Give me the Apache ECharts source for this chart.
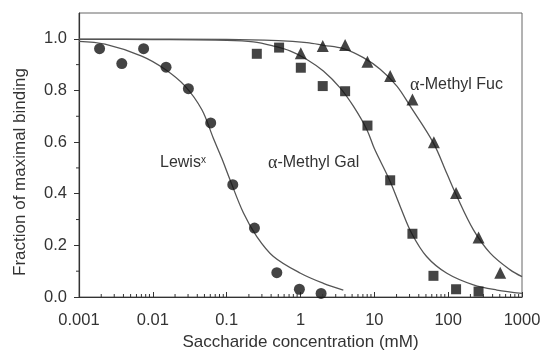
<!DOCTYPE html>
<html><head><meta charset="utf-8">
<script src="https://cdn.jsdelivr.net/npm/echarts@6/dist/echarts.min.js"></script>
<style>html,body{margin:0;padding:0;background:#fff}#c{width:541px;height:352px}</style>
</head><body><div id="c"></div>
<script>
// ---- measured points ----
const lewisX = [0.0019, 0.0038, 0.0075, 0.0151, 0.0303, 0.0608, 0.121, 0.238, 0.478, 0.966, 1.9];
const lewisY = [0.962, 0.904, 0.962, 0.890, 0.807, 0.674, 0.435, 0.267, 0.094, 0.030, 0.014];
const galX = [0.256, 0.513, 1.01, 2.0, 4.02, 8.07, 16.4, 32.8, 63.2, 128, 258];
const galY = [0.942, 0.966, 0.888, 0.817, 0.797, 0.664, 0.452, 0.245, 0.082, 0.030, 0.021];
const fucX = [1.01, 2.0, 4.02, 8.07, 16.4, 32.8, 64, 128, 258, 507];
const fucY = [0.944, 0.972, 0.976, 0.911, 0.856, 0.765, 0.599, 0.403, 0.230, 0.094];
// ---- fitted curves ----
const lewisFitX = [0.001, 0.00225, 0.00706, 0.0146, 0.0273, 0.046, 0.066, 0.0858, 0.111, 0.169, 0.256, 0.43, 1.0, 2.04, 3.8];
const lewisFitY = [0.99, 0.979, 0.933, 0.882, 0.817, 0.726, 0.615, 0.537, 0.454, 0.325, 0.234, 0.157, 0.092, 0.053, 0.027];
const galFitX = [0.001, 0.01, 0.1, 0.23, 0.43, 0.72, 1.22, 2.04, 3.44, 5.2, 7.9, 10, 16, 22.4, 32, 51, 96, 220, 457, 1000];
const galFitY = [0.998, 0.997, 0.994, 0.988, 0.972, 0.953, 0.920, 0.875, 0.810, 0.739, 0.649, 0.575, 0.454, 0.351, 0.247, 0.157, 0.092, 0.047, 0.027, 0.014];
const fucFitX = [0.001, 0.1, 0.5, 1.22, 2.04, 3.81, 7.1, 12, 20.2, 30.6, 63, 96, 131, 220, 371, 692, 1000];
const fucFitY = [0.999, 0.998, 0.993, 0.985, 0.975, 0.962, 0.927, 0.882, 0.817, 0.739, 0.597, 0.478, 0.390, 0.260, 0.170, 0.105, 0.079];
// ---- ticks ----
const yMajorTicks = [0, 0.2, 0.4, 0.6, 0.8, 1.0];
const yMinorTicks = [0.1, 0.3, 0.5, 0.7, 0.9];
const xDecades = [0.001, 0.01, 0.1, 1, 10, 100];
const xMinorMult = [2, 3, 4, 5, 6, 7, 8, 9];

const xMinorTicks = [];
xDecades.forEach(d => xMinorMult.forEach(m => xMinorTicks.push(+(d * m).toPrecision(3))));

const FONT = '"Liberation Sans", Arial, Helvetica, sans-serif';
const SERIF = '"Liberation Serif", "Times New Roman", serif';
const TXT = '#333';
const zip = (xs, ys) => xs.map((x, i) => [x, ys[i]]);

const chart = echarts.init(document.getElementById('c'));
const fitLine = (name, xs, ys) => ({
  type: 'line', name, data: zip(xs, ys), showSymbol: false, smooth: 0.35,
  lineStyle: { color: '#555', width: 1.3 }, z: 2, silent: true
});
const pts = (name, xs, ys, symbol, size) => ({
  type: 'scatter', name, data: zip(xs, ys), symbol, symbolSize: size,
  itemStyle: { color: '#151515' }, z: 3, silent: true
});

chart.setOption({
  animation: false,
  backgroundColor: '#fff',
  grid: { left: 79, right: 19, top: 13, bottom: 55, show: true, borderColor: '#666', borderWidth: 1,
          containLabel: false, outerBoundsMode: 'none' },
  xAxis: {
    type: 'log', logBase: 10, min: 0.001, max: 1000, splitNumber: 6,
    name: 'Saccharide concentration (mM)', nameLocation: 'middle', nameGap: 37,
    nameTextStyle: { fontFamily: FONT, fontSize: 17, color: TXT },
    axisLine: { lineStyle: { color: '#333', width: 1.2 } },
    axisTick: { inside: true, length: 5, lineStyle: { color: '#333' } },
    axisLabel: {
      margin: 15, fontFamily: FONT, fontSize: 16.5, color: TXT,
      formatter: v => { const e = Math.round(Math.log10(v)); return e < 0 ? Math.pow(10, e).toFixed(-e) : String(Math.pow(10, e)); }
    },
    splitLine: { show: false }
  },
  yAxis: {
    type: 'value', min: 0, max: 1.1,
    name: 'Fraction of maximal binding', nameLocation: 'middle', nameGap: 50,
    nameTextStyle: { fontFamily: FONT, fontSize: 17, color: TXT, padding: [0, 34, 0, 0] },
    axisLine: { show: true, lineStyle: { color: '#333', width: 1.2 } },
    axisTick: { show: true, length: 5, customValues: yMajorTicks, lineStyle: { color: '#333' } },
    axisLabel: { customValues: yMajorTicks, margin: 12, fontFamily: FONT, fontSize: 16.5, color: TXT, formatter: v => v.toFixed(1) },
    splitLine: { show: false }
  },
  graphic: [
    { type: 'text', left: 160, top: 155, style: { text: 'Lewis{s|x}', fontFamily: FONT, fontSize: 16, fill: TXT,
        rich: { s: { fontFamily: FONT, fontSize: 10, verticalAlign: 'top', fill: TXT } } } },
    { type: 'text', left: 268, top: 154, style: { text: '{a|α}-Methyl Gal', fontFamily: FONT, fontSize: 16, fill: TXT,
        rich: { a: { fontFamily: SERIF, fontSize: 18, fill: TXT } } } },
    { type: 'text', left: 410, top: 76, style: { text: '{a|α}-Methyl Fuc', fontFamily: FONT, fontSize: 16, fill: TXT,
        rich: { a: { fontFamily: SERIF, fontSize: 18, fill: TXT } } } }
  ],
  series: [
    fitLine('Lewis x fit', lewisFitX, lewisFitY),
    fitLine('Gal fit', galFitX, galFitY),
    fitLine('Fuc fit', fucFitX, fucFitY),
    pts('Lewis x', lewisX, lewisY, 'circle', 11),
    pts('alpha-Methyl Gal', galX, galY, 'rect', 10),
    pts('alpha-Methyl Fuc', fucX, fucY, 'triangle', 12),
    {
      type: 'custom', silent: true, clip: false, z: 4,
      data: xMinorTicks.map(v => [v, 0]),
      renderItem: (params, api) => {
        const p = api.coord([api.value(0), api.value(1)]);
        return { type: 'line', shape: { x1: p[0], y1: p[1], x2: p[0], y2: p[1] - 3 }, style: { stroke: '#333', lineWidth: 1 } };
      }
    },
    {
      type: 'custom', silent: true, clip: false, z: 4,
      data: yMinorTicks.map(v => [0.001, v]),
      renderItem: (params, api) => {
        const p = api.coord([api.value(0), api.value(1)]);
        return { type: 'line', shape: { x1: p[0] - 3, y1: p[1], x2: p[0], y2: p[1] }, style: { stroke: '#333', lineWidth: 1 } };
      }
    }
  ]
});
</script>
</body></html>
